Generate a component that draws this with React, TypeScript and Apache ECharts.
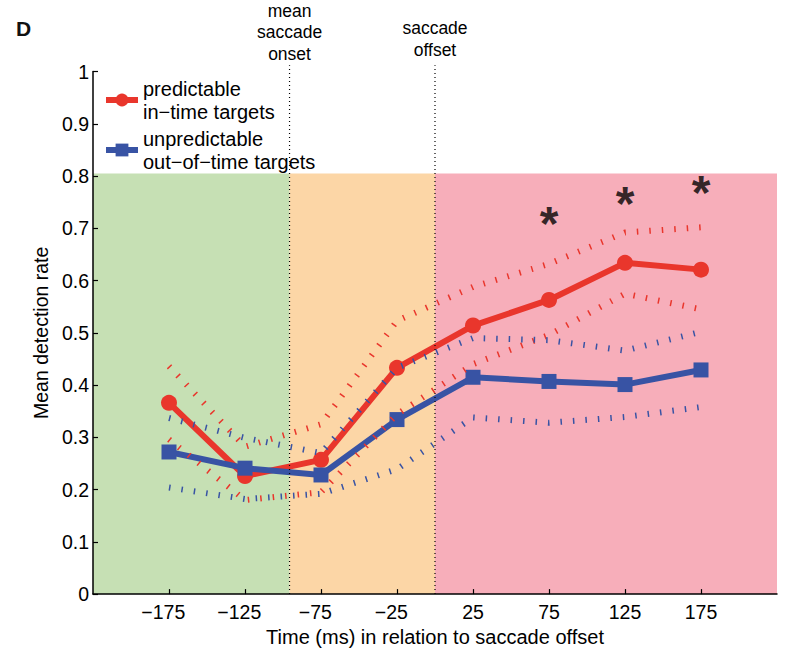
import React, { useEffect, useRef } from 'react';
import * as echarts from 'echarts';

// Time points (ms relative to saccade offset) and tick labels
const xTicks = [-175, -125, -75, -25, 25, 75, 125, 175];
const yTicks = [0, 0.1, 0.2, 0.3, 0.4, 0.5, 0.6, 0.7, 0.8, 0.9, 1];

// Predictable in-time targets
const redMean = [0.366, 0.226, 0.257, 0.433, 0.514, 0.563, 0.634, 0.621];
const redUpper = [0.436, 0.282, 0.325, 0.523, 0.588, 0.632, 0.692, 0.702];
const redLower = [0.296, 0.180, 0.195, 0.344, 0.440, 0.496, 0.575, 0.545];

// Unpredictable out-of-time targets
const blueMean = [0.272, 0.241, 0.228, 0.334, 0.415, 0.407, 0.401, 0.429];
const blueUpper = [0.337, 0.299, 0.270, 0.433, 0.490, 0.486, 0.466, 0.502];
const blueLower = [0.204, 0.182, 0.192, 0.239, 0.338, 0.328, 0.339, 0.358];

// Significance markers
const starX = [75, 125, 175];
const starY = [0.724, 0.762, 0.782];

// Background epochs
const epochBounds = [-225, -95.7, 0, 225];
const epochTop = 0.805;
const epochColors = ['#c6e0b4', '#fcd6a6', '#f7aeba'];

// Event markers
const eventX = [-95.7, 0];
const eventTop = 1.012;
const eventLabels = ['mean\nsaccade\nonset', 'saccade\noffset'];

const redName = 'predictable\nin\u2212time targets';
const blueName = 'unpredictable\nout\u2212of\u2212time targets';

const RED = '#e9362c';
const BLUE = '#3853a4';
const FONT = '"Liberation Sans", Arial, Helvetica, sans-serif';

export default function App() {
  const ref = useRef<HTMLDivElement>(null);
  useEffect(() => {
    const chart = echarts.init(ref.current!, null, { renderer: 'svg' });
    const pairs = (ys: number[]) => xTicks.map((x, i) => [x, ys[i]]);
    const ciSeries = (name: string, ys: number[], color: string) => ({
      name,
      type: 'line',
      data: pairs(ys),
      symbol: 'none',
      z: 4,
      silent: true,
      lineStyle: { color, width: 6, type: [1.5, 11], cap: 'butt' },
    });
    const option: any = {
      animation: false,
      backgroundColor: '#ffffff',
      textStyle: { fontFamily: FONT },
      title: {
        text: 'D',
        left: 11,
        top: 13,
        textStyle: { fontSize: 21, fontWeight: 'bold', color: '#111', fontFamily: FONT },
      },
      legend: {
        data: [redName, blueName],
        orient: 'vertical',
        left: 103,
        top: 77,
        padding: 0,
        itemWidth: 32,
        itemHeight: 16,
        itemGap: 4,
        lineStyle: { width: 6 },
        textStyle: { fontSize: 20, lineHeight: 23, color: '#000', fontFamily: FONT },
      },
      grid: { left: 93, right: 18, top: 71.6, bottom: 54.5 },
      xAxis: {
        type: 'value',
        min: -225,
        max: 225,
        interval: 50,
        z: 10,
        name: 'Time (ms) in relation to saccade offset',
        nameLocation: 'middle',
        nameGap: 28,
        nameTextStyle: { fontSize: 20, color: '#000', fontFamily: FONT },
        axisLine: { show: true, onZero: false, lineStyle: { color: '#000', width: 1.5 } },
        axisTick: { show: true, inside: true, length: 5, customValues: xTicks, lineStyle: { color: '#000', width: 1.2 } },
        axisLabel: {
          customValues: xTicks,
          fontSize: 19.5,
          color: '#000',
          margin: 8,
          fontFamily: FONT,
          formatter: (v: number) => (v < 0 ? '\u2212' + Math.abs(v) + '{h|\u2212}' : String(v)),
          rich: { h: { color: 'rgba(0,0,0,0)', fontSize: 19.5, fontFamily: FONT } },
        },
        splitLine: { show: false },
      },
      yAxis: {
        type: 'value',
        min: 0,
        max: 1,
        interval: 0.1,
        z: 10,
        name: 'Mean detection rate',
        nameLocation: 'middle',
        nameGap: 36,
        nameTextStyle: { fontSize: 19.5, color: '#000', fontFamily: FONT },
        axisLine: { show: true, onZero: false, lineStyle: { color: '#000', width: 1.5 } },
        axisTick: { show: true, inside: true, length: 5, customValues: yTicks, lineStyle: { color: '#000', width: 1.2 } },
        axisLabel: { customValues: yTicks, fontSize: 19.5, color: '#000', margin: 4, fontFamily: FONT },
        splitLine: { show: false },
      },
      series: [
        {
          name: 'background',
          type: 'line',
          data: [],
          z: 0,
          silent: true,
          markArea: {
            silent: true,
            data: epochColors.map((c, i) => [
              { xAxis: epochBounds[i], yAxis: 0, itemStyle: { color: c } },
              { xAxis: epochBounds[i + 1], yAxis: epochTop },
            ]),
          },
        },
        {
          name: redName,
          type: 'line',
          data: pairs(redMean),
          z: 3,
          symbol: 'circle',
          symbolSize: 16,
          itemStyle: { color: RED },
          lineStyle: { color: RED, width: 6 },
        },
        {
          name: blueName,
          type: 'line',
          data: pairs(blueMean),
          z: 3,
          symbol: 'rect',
          symbolSize: 15,
          itemStyle: { color: BLUE },
          lineStyle: { color: BLUE, width: 6 },
        },
        ciSeries('red upper', redUpper, RED),
        ciSeries('red lower', redLower, RED),
        ciSeries('blue upper', blueUpper, BLUE),
        ciSeries('blue lower', blueLower, BLUE),
        {
          name: 'significance',
          type: 'scatter',
          data: starX.map((x, i) => [x, starY[i]]),
          symbolSize: 1,
          z: 5,
          silent: true,
          itemStyle: { color: 'rgba(0,0,0,0)' },
          label: {
            show: true,
            position: 'inside',
            formatter: '*',
            fontSize: 48,
            fontWeight: 'bold',
            color: '#000',
            offset: [0, 7.3],
            fontFamily: FONT,
          },
        },
      ],
    };
    chart.setOption(option);

    // Event marker lines and labels, placed through the chart's own scales
    const labelLift = [1, 5];
    const graphics: any[] = [];
    eventX.forEach((x, i) => {
      const p0 = chart.convertToPixel({ gridIndex: 0 }, [x, 0]) as number[];
      const p1 = chart.convertToPixel({ gridIndex: 0 }, [x, eventTop]) as number[];
      graphics.push({
        type: 'line',
        z: 100,
        silent: true,
        shape: { x1: p0[0], y1: p0[1], x2: p1[0], y2: p1[1] },
        style: { stroke: '#000', lineWidth: 1.2, lineDash: [1.2, 2.8] },
      });
      graphics.push({
        type: 'text',
        z: 100,
        silent: true,
        x: p1[0],
        y: p1[1] - labelLift[i],
        style: {
          text: eventLabels[i],
          fontSize: 17.5,
          lineHeight: 21.5,
          fontFamily: FONT,
          fill: '#000',
          align: 'center',
          verticalAlign: 'bottom',
        },
      });
    });
    chart.setOption({ graphic: graphics });
    return () => chart.dispose();
  }, []);
  return (
    <div
      ref={ref}
      style={{ position: 'fixed', left: 0, top: 0, width: 795, height: 652 }}
    />
  );
}
